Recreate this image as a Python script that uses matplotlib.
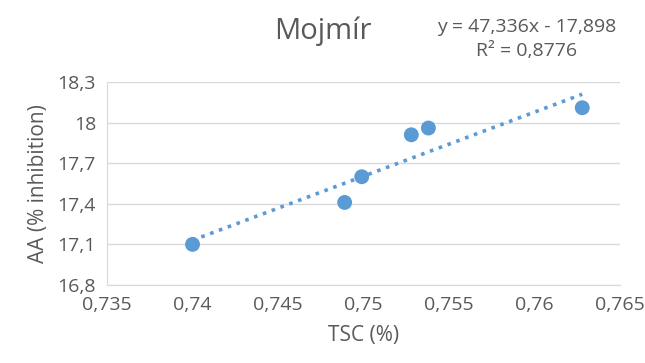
import matplotlib
matplotlib.use("Agg")
import matplotlib.pyplot as plt
import numpy as np
from matplotlib.ticker import FuncFormatter

tsc = [0.7400, 0.7489, 0.7499, 0.7528, 0.7538, 0.7628]
aa = [17.10, 17.41, 17.60, 17.91, 17.96, 18.11]
slope = 47.336
intercept = -17.898
r2 = 0.8776
title = "Mojmír"
xlabel = "TSC (%)"
ylabel = "AA (% inhibition)"

plt.rcParams['font.family'] = ['Open Sans', 'DejaVu Sans']
gray = '#595959'
blue = '#5B9BD5'

fig = plt.figure(figsize=(6.45, 3.63), dpi=100)
ax = fig.add_axes([0.166, 0.215, 0.795, 0.559])

ax.scatter(tsc, aa, s=115, color=blue, zorder=3, edgecolors='none')
xl = np.array([min(tsc), max(tsc)])
ax.plot(xl, slope * xl + intercept, linestyle=(0, (1, 1.6)), color=blue, lw=2.6, zorder=2)

ax.set_xlim(0.735, 0.765)
ax.set_ylim(16.8, 18.3)
ax.set_xticks(np.arange(0.735, 0.7651, 0.005))
ax.set_yticks(np.arange(16.8, 18.31, 0.3))

def fmt(v, pos):
    s = ('%.3f' % v).rstrip('0').rstrip('.')
    return s.replace('.', ',')
ax.xaxis.set_major_formatter(FuncFormatter(fmt))
ax.yaxis.set_major_formatter(FuncFormatter(fmt))

ax.grid(axis='y', color='#D9D9D9', lw=1)
ax.set_axisbelow(True)
for s in ['top', 'right']:
    ax.spines[s].set_visible(False)
ax.spines['left'].set_color('#D9D9D9')
ax.spines['bottom'].set_color('#D9D9D9')
ax.tick_params(length=0, labelsize=14, colors=gray, pad=8)

ax.set_xlabel(xlabel, fontsize=15, color=gray, labelpad=8)
ax.set_ylabel(ylabel, fontsize=15, color=gray, labelpad=6)

fig.text(0.5, 0.915, title, ha='center', va='center', fontsize=21, color=gray)
eq = "y = 47,336x - 17,898\nR² = 0,8776"
fig.text(0.817, 0.893, eq, ha='center', va='center', fontsize=14, color=gray, linespacing=1.4)

fig.savefig("out.png", dpi=100)
